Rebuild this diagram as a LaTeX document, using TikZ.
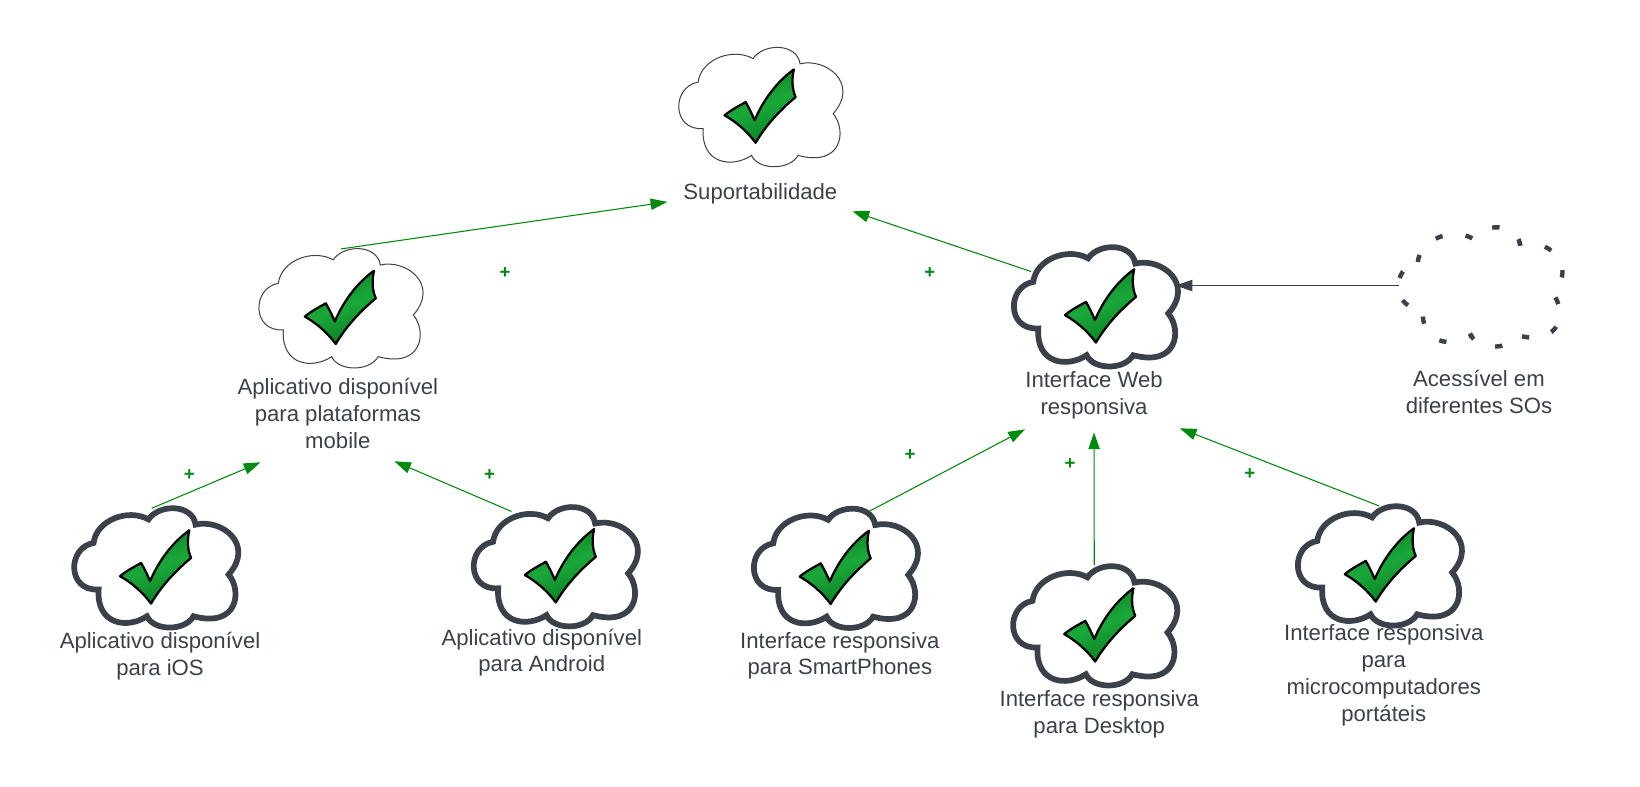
\documentclass[tikz,border=0pt]{standalone}
\usepackage{fontspec}
\setmainfont{Liberation Sans}
\usetikzlibrary{arrows.meta}
\definecolor{ink}{HTML}{3A414A}
\definecolor{plusgreen}{HTML}{008A0E}
\definecolor{tickdark}{HTML}{0A8020}
\definecolor{ticklight}{HTML}{1AA83A}
\tikzset{
  cloudbox/.style={minimum width=116pt,minimum height=87pt,inner sep=0pt,outer sep=0pt},
  thincloud/.style={draw=black!75,line width=0.75pt,fill=white},
  thickcloud/.style={draw=ink,line width=4.3pt,fill=white},
  dashcloud/.style={draw=ink,line width=3.3pt,dash pattern=on 5.5pt off 17.5pt},
  lbl/.style={text=ink,font=\fontsize{16.6}{20.2}\selectfont,align=center,inner sep=0pt},
  pluslbl/.style={text=plusgreen,font=\bfseries\fontsize{14}{16}\selectfont,inner sep=0pt},
  plusarrow/.style={draw=plusgreen,line width=0.8pt,-{Triangle[length=12.5pt,width=8.5pt]}},
  grayarrow/.style={draw=ink,line width=0.8pt,-{Triangle[length=12.5pt,width=8.5pt]}},
  pics/cloudshape/.style={code={
    \path[pic actions,shift={(-76,-57)}]
      (17.5,33.5) .. controls (20,12) and (50,0) .. (70,11)
      .. controls (80,-4) and (112,-4) .. (115,16)
      .. controls (140,10) and (172,35) .. (146.6,63.7)
      .. controls (160,80) and (155,115) .. (113,103.6)
      .. controls (105,118) and (75,118) .. (68.5,103.6)
      .. controls (50,116) and (20,112) .. (22.3,78)
      .. controls (-8,80) and (-8,38) .. (17.5,33.5) -- cycle;
  }},
  pics/tickshape/.style={code={
    \draw[shift={(-76,-57)},draw=black,line width=1.7pt,line join=round,
      left color=tickdark,right color=tickdark,middle color=ticklight,shading angle=20]
      (47.8,65.3) .. controls (54,60) and (62,56) .. (67.9,52.6)
      .. controls (71,58) and (74,64) .. (76.5,70)
      .. controls (85,50) and (98,33) .. (114,21.4)
      .. controls (112,30) and (112,40) .. (115.7,47.8)
      .. controls (101,60) and (87,75) .. (77.4,91.5)
      .. controls (69,80) and (58,71) .. (47.8,65.3) -- cycle;
  }}
}
\begin{document}
\begin{tikzpicture}[x=0.7845pt,y=-0.7845pt]
\useasboundingbox (0,0) rectangle (1568,752.4);
% cloud anchors
\node[cloudbox] (sup) at (726,102) {};
\node[cloudbox] (app) at (324.6,294.4) {};
\node[cloudbox] (web) at (1046.4,293) {};
\node[cloudbox] (ace) at (1414,274) {};
\node[cloudbox] (ios) at (148,542.6) {};
\node[cloudbox] (and) at (530,541.5) {};
\node[cloudbox] (sma) at (797.8,543) {};
\node[cloudbox] (des) at (1045.7,598) {};
\node[cloudbox] (mic) at (1317.9,540.7) {};
% clouds
\pic[thincloud] at (sup) {cloudshape};
\pic[thincloud] at (app) {cloudshape};
\pic[thickcloud] at (web) {cloudshape};
\pic[dashcloud] at (ace) {cloudshape};
\pic[thickcloud] at (ios) {cloudshape};
\pic[thickcloud] at (and) {cloudshape};
\pic[thickcloud] at (sma) {cloudshape};
\pic[thickcloud] at (des) {cloudshape};
\pic[thickcloud] at (mic) {cloudshape};
% ticks
\pic at ([shift={(-5,0)}]sup.center) {tickshape};
\pic at ([shift={(-5,0)}]app.center) {tickshape};
\pic at (web) {tickshape};
\pic at ([shift={(-5,0)}]ios.center) {tickshape};
\pic at (and) {tickshape};
\pic at ([shift={(-5,0)}]sma.center) {tickshape};
\pic at (des) {tickshape};
\pic at ([shift={(-4,0)}]mic.center) {tickshape};
% labels
\node[lbl] (supL) at (727,185) {Suportabilidade};
\node[lbl] (appL) at (323,395) {Aplicativo disponível\\para plataformas\\mobile};
\node[lbl] (webL) at (1046,378) {Interface Web\\responsiva};
\node[lbl] (aceL) at (1414,375) {Acessível em\\diferentes SOs};
\node[lbl] (iosL) at (153,627) {Aplicativo disponível\\para iOS};
\node[lbl] (andL) at (518,624) {Aplicativo disponível\\para Android};
\node[lbl] (smaL) at (803,627) {Interface responsiva\\para SmartPhones};
\node[lbl] (desL) at (1051,682.5) {Interface responsiva\\para Desktop};
\node[lbl] (micL) at (1323,645.5) {Interface responsiva\\para\\microcomputadores\\portáteis};
% connectors
\draw[plusarrow] ([shift={(1.4,-56.4)}]app.center) -- ([shift={(-89,8)}]supL.center);
\draw[plusarrow] ([shift={(-60.4,-33.3)}]web.center) -- ([shift={(88,17)}]supL.center);
\draw[grayarrow] ([shift={(-76,-1)}]ace.center) -- ([shift={(77.6,-20)}]web.center);
\draw[plusarrow] ([shift={(-3,-56.6)}]ios.center) -- ([shift={(-74,47)}]appL.center);
\draw[plusarrow] ([shift={(-41,-52.5)}]and.center) -- ([shift={(54,46)}]appL.center);
\draw[plusarrow] ([shift={(33.9,-54.5)}]sma.center) -- ([shift={(-66,32.5)}]webL.center);
\draw[plusarrow] ([shift={(0.5,-58)}]des.center) -- ([shift={(0,35.5)}]webL.center);
\draw[plusarrow] ([shift={(0.8,-56.9)}]mic.center) -- ([shift={(82,31.5)}]webL.center);
% plus signs
\node[pluslbl] (p1) at (483,261) {+};
\node[pluslbl] (p2) at (889,261) {+};
\node[pluslbl] (p3) at (181,454) {+};
\node[pluslbl] (p4) at (468,454) {+};
\node[pluslbl] (p5) at (870,435) {+};
\node[pluslbl] (p6) at (1023,444) {+};
\node[pluslbl] (p7) at (1195,453) {+};
\end{tikzpicture}
\end{document}
